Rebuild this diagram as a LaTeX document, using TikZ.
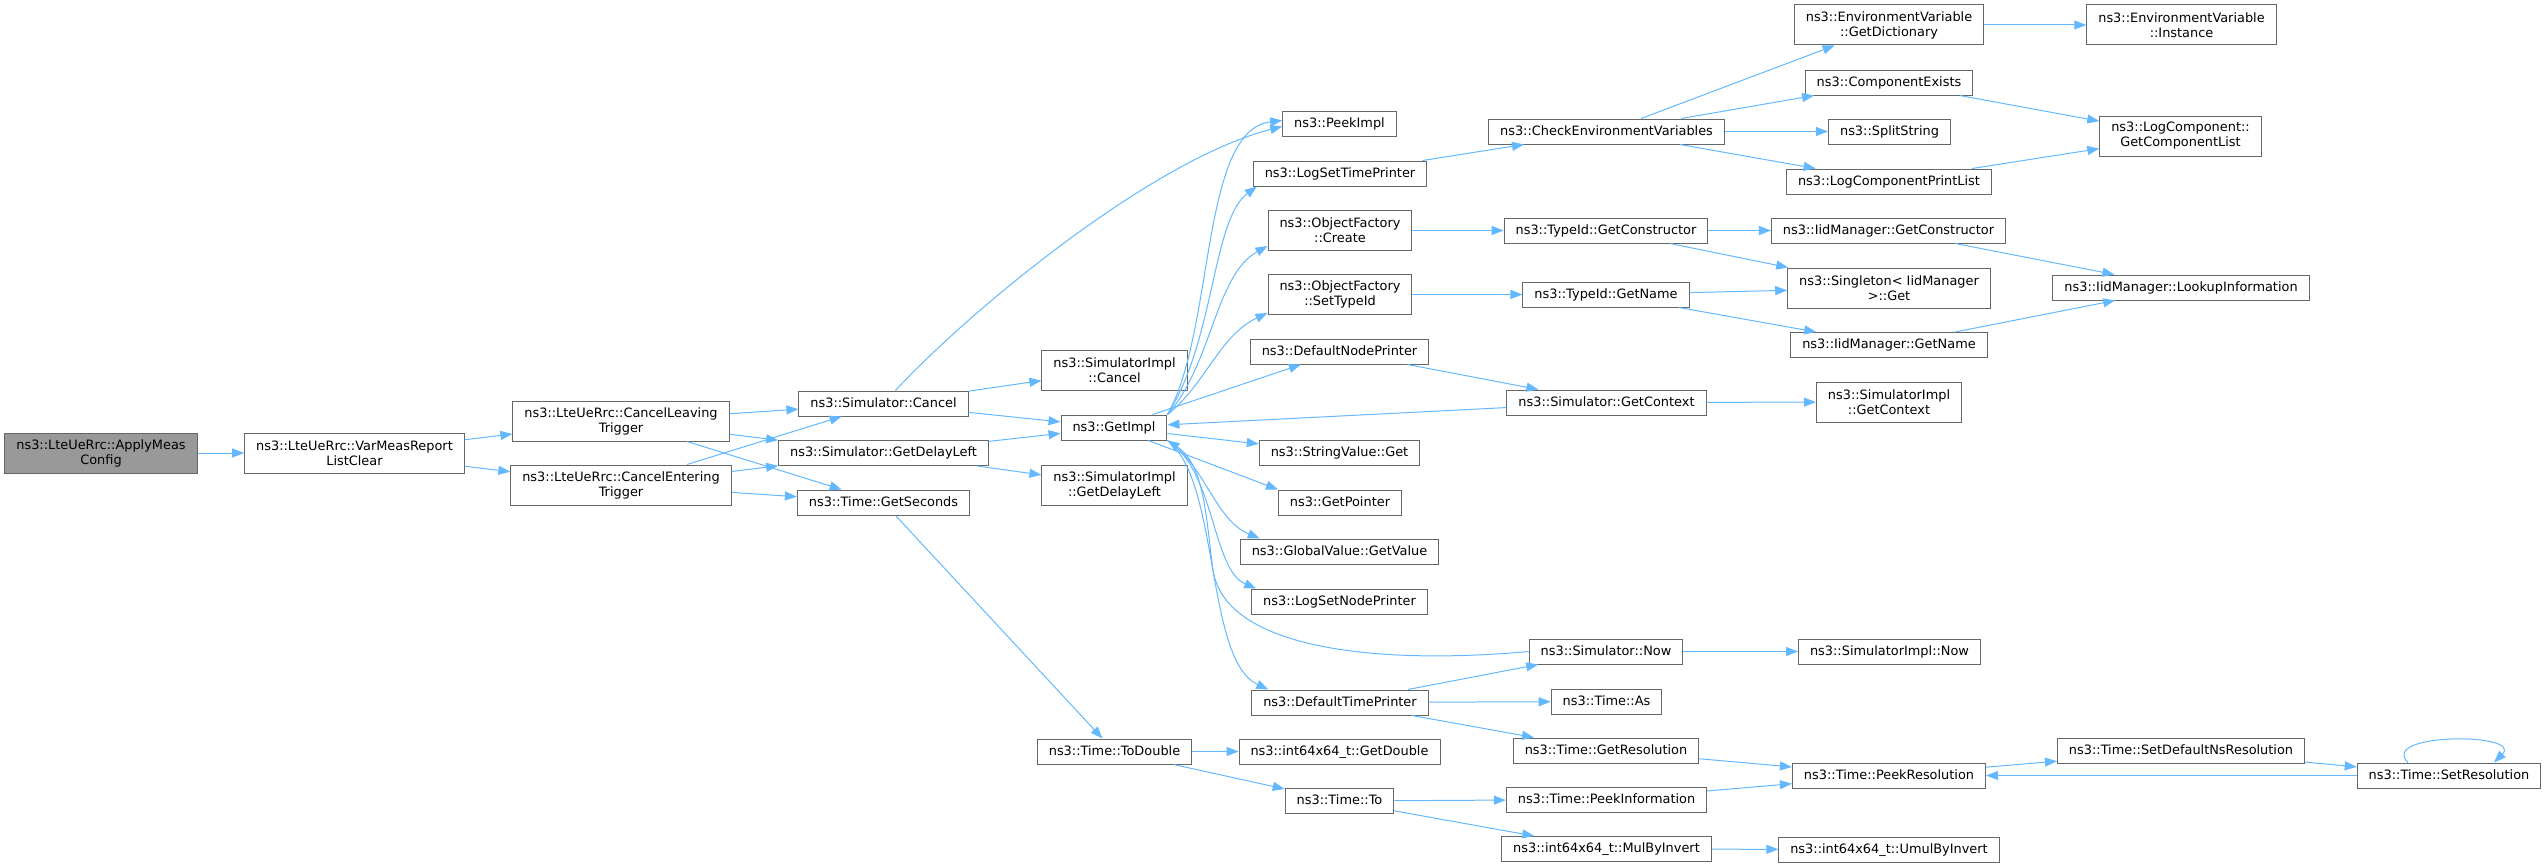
\documentclass[tikz,border=0pt]{standalone}
\usepackage{fontspec}
\setmainfont{DejaVu Sans}
\usepackage{tikz}
\usetikzlibrary{arrows.meta}
\definecolor{edgeblue}{HTML}{63B8FF}
\definecolor{boxgray}{HTML}{666666}
\definecolor{rootgray}{HTML}{999999}

\begin{document}
\begin{tikzpicture}[
            x=1pt, y=-1pt,
            base/.style={draw=boxgray, fill=white, line width=1pt, inner xsep=11.5pt, inner ysep=0pt},
            n/.style={base, minimum height=25pt, text height=9.6pt, text depth=2.6pt},
            nn/.style={base, minimum height=40pt, align=center},
            root/.style={nn, fill=rootgray},
            e/.style={-{Triangle[length=12pt,width=9pt]}, draw=edgeblue, line width=1pt},
            font={\fontsize{12.9pt}{15pt}\selectfont}
        ]
        \useasboundingbox (0,0) rectangle (2547,867);
        \node[root] (ApplyMeasConfig) at (101,453) {ns3::LteUeRrc::ApplyMeas\\Config}; % the caller
        \node[nn] (VarMeasReportListClear) at (354.5,453) {ns3::LteUeRrc::VarMeasReport\\ListClear};
        \node[nn] (CancelLeavingTrigger) at (621,421) {ns3::LteUeRrc::CancelLeaving\\Trigger};
        \node[nn] (CancelEnteringTrigger) at (621,485) {ns3::LteUeRrc::CancelEntering\\Trigger};
        \node[n] (SimCancel) at (883.5,403.5) {ns3::Simulator::Cancel};
        \node[n] (SimGetDelayLeft) at (883.5,453) {ns3::Simulator::GetDelayLeft};
        \node[n] (GetSeconds) at (883.5,502.5) {ns3::Time::GetSeconds};
        \node[nn] (ImplCancel) at (1114.5,370) {ns3::SimulatorImpl\\::Cancel};
        \node[n] (GetImpl) at (1114,427.5) {ns3::GetImpl};
        \node[nn] (ImplGetDelayLeft) at (1114.5,485) {ns3::SimulatorImpl\\::GetDelayLeft};
        \node[n] (ToDouble) at (1114.5,751.5) {ns3::Time::ToDouble};
        \node[n] (PeekImpl) at (1339.5,123.5) {ns3::PeekImpl};
        \node[n] (LogSetTimePrinter) at (1340,173.5) {ns3::LogSetTimePrinter};
        \node[nn] (OFCreate) at (1340,230.5) {ns3::ObjectFactory\\::Create};
        \node[nn] (OFSetTypeId) at (1340,294.5) {ns3::ObjectFactory\\::SetTypeId};
        \node[n] (DefaultNodePrinter) at (1339.5,351.5) {ns3::DefaultNodePrinter};
        \node[n] (StringValueGet) at (1339.5,453) {ns3::StringValue::Get};
        \node[n] (GetPointer) at (1340,502.5) {ns3::GetPointer};
        \node[n] (GlobalValueGetValue) at (1339.5,551.5) {ns3::GlobalValue::GetValue};
        \node[n] (LogSetNodePrinter) at (1339.5,601.5) {ns3::LogSetNodePrinter};
        \node[n] (DefaultTimePrinter) at (1340,702.5) {ns3::DefaultTimePrinter};
        \node[n] (GetDouble) at (1339.5,751.5) {ns3::int64x64\_t::GetDouble};
        \node[n] (TimeTo) at (1339.5,801) {ns3::Time::To};
        \node[n] (CheckEnvVars) at (1606.5,131.5) {ns3::CheckEnvironmentVariables};
        \node[n] (TidGetConstructor) at (1606,230.5) {ns3::TypeId::GetConstructor};
        \node[n] (TidGetName) at (1606,294.5) {ns3::TypeId::GetName};
        \node[n] (SimGetContext) at (1606.5,402.5) {ns3::Simulator::GetContext};
        \node[n] (SimNow) at (1606,651.5) {ns3::Simulator::Now};
        \node[n] (TimeAs) at (1606.5,701.5) {ns3::Time::As};
        \node[n] (GetResolution) at (1606,750.5) {ns3::Time::GetResolution};
        \node[n] (PeekInformation) at (1606.5,799.5) {ns3::Time::PeekInformation};
        \node[n] (MulByInvert) at (1606.5,849) {ns3::int64x64\_t::MulByInvert};
        \node[nn] (GetDictionary) at (1889,25) {ns3::EnvironmentVariable\\::GetDictionary};
        \node[n] (ComponentExists) at (1889,82.5) {ns3::ComponentExists};
        \node[n] (SplitString) at (1889.5,131.5) {ns3::SplitString};
        \node[n] (LogComponentPrintList) at (1889,181.5) {ns3::LogComponentPrintList};
        \node[n] (IidGetConstructor) at (1888.5,230.5) {ns3::IidManager::GetConstructor};
        \node[nn] (SingletonGet) at (1889,288) {ns3::Singleton< IidManager\\ >::Get};
        \node[n] (IidGetName) at (1889,345) {ns3::IidManager::GetName};
        \node[nn] (ImplGetContext) at (1889,402) {ns3::SimulatorImpl\\::GetContext};
        \node[n] (ImplNow) at (1889.5,651.5) {ns3::SimulatorImpl::Now};
        \node[n] (PeekResolution) at (1889,775.5) {ns3::Time::PeekResolution};
        \node[n] (UmulByInvert) at (1889,849.5) {ns3::int64x64\_t::UmulByInvert};
        \node[nn] (EnvInstance) at (2181.5,25) {ns3::EnvironmentVariable\\::Instance};
        \node[nn] (GetComponentList) at (2180.5,136) {ns3::LogComponent::\\GetComponentList};
        \node[n] (LookupInformation) at (2181,287.5) {ns3::IidManager::LookupInformation};
        \node[n] (SetDefaultNsResolution) at (2181,750.5) {ns3::Time::SetDefaultNsResolution};
        \node[n] (SetResolution) at (2449,775.5) {ns3::Time::SetResolution};

        % calls
        \draw[e] (ApplyMeasConfig) -- (VarMeasReportListClear);
        \draw[e] (VarMeasReportListClear) -- (CancelLeavingTrigger);
        \draw[e] (VarMeasReportListClear) -- (CancelEnteringTrigger);
        \draw[e] (CancelLeavingTrigger) -- (SimCancel);
        \draw[e] (CancelLeavingTrigger) -- (SimGetDelayLeft);
        \draw[e] (CancelLeavingTrigger) -- (GetSeconds);
        \draw[e] (CancelEnteringTrigger) -- (SimCancel);
        \draw[e] (CancelEnteringTrigger) -- (SimGetDelayLeft);
        \draw[e] (CancelEnteringTrigger) -- (GetSeconds);
        \draw[e] (SimCancel) .. controls (965,315) and (1150,160) .. ([yshift=-3pt]PeekImpl.west);
        \draw[e] (SimCancel) -- (ImplCancel);
        \draw[e] (SimCancel) -- (GetImpl);
        \draw[e] (SimGetDelayLeft) -- (GetImpl);
        \draw[e] (SimGetDelayLeft) -- (ImplGetDelayLeft);
        \draw[e] (GetSeconds) -- (ToDouble);
        % GetImpl fans out up and down
        \draw[e] (GetImpl.north east) .. controls (1215,330) and (1200,130) .. ([yshift=3pt]PeekImpl.west);
        \draw[e] (GetImpl.north east) .. controls (1215,340) and (1212,220) .. ([xshift=4pt]LogSetTimePrinter.south west);
        \draw[e] (GetImpl.north east) .. controls (1212,365) and (1215,275) .. ([yshift=5pt]OFCreate.south west);
        \draw[e] (GetImpl.north east) .. controls (1205,385) and (1220,335) .. ([yshift=2pt]OFSetTypeId.south west);
        \draw[e] (GetImpl) -- (DefaultNodePrinter);
        \draw[e] (SimGetContext) -- (GetImpl);
        \draw[e] (GetImpl) -- (StringValueGet);
        \draw[e] (GetImpl) -- (GetPointer.north west);
        \draw[e] (GetImpl.south east) .. controls (1205,465) and (1215,520) .. ([xshift=20pt]GlobalValueGetValue.north west);
        \draw[e] (GetImpl.south east) .. controls (1215,470) and (1212,570) .. ([xshift=5pt]LogSetNodePrinter.north west);
        \draw[e] (GetImpl.south east) .. controls (1220,480) and (1205,660) .. ([xshift=17pt]DefaultTimePrinter.north west);
        \draw[e] (SimNow.west) .. controls (1380,665) and (1225,650) .. (1213,570)
                 .. controls (1206,520) and (1205,465) .. (GetImpl.south east);
        \draw[e] (LogSetTimePrinter) -- (CheckEnvVars);
        \draw[e] (CheckEnvVars) -- (GetDictionary);
        \draw[e] (CheckEnvVars) -- (ComponentExists);
        \draw[e] (CheckEnvVars) -- (SplitString);
        \draw[e] (CheckEnvVars) -- (LogComponentPrintList);
        \draw[e] (GetDictionary) -- (EnvInstance);
        \draw[e] (ComponentExists) -- (GetComponentList);
        \draw[e] (LogComponentPrintList) -- (GetComponentList);
        \draw[e] (OFCreate) -- (TidGetConstructor);
        \draw[e] (TidGetConstructor) -- (IidGetConstructor);
        \draw[e] (TidGetConstructor) -- (SingletonGet);
        \draw[e] (OFSetTypeId) -- (TidGetName);
        \draw[e] (TidGetName) -- (SingletonGet);
        \draw[e] (TidGetName) -- (IidGetName);
        \draw[e] (IidGetConstructor) -- (LookupInformation);
        \draw[e] (IidGetName) -- (LookupInformation);
        \draw[e] (DefaultNodePrinter) -- (SimGetContext);
        \draw[e] (SimGetContext) -- (ImplGetContext);
        \draw[e] (SimNow) -- (ImplNow);
        \draw[e] (DefaultTimePrinter) -- (SimNow);
        \draw[e] (DefaultTimePrinter) -- (TimeAs);
        \draw[e] (DefaultTimePrinter) -- (GetResolution);
        \draw[e] (GetResolution) -- (PeekResolution);
        \draw[e] (ToDouble) -- (GetDouble);
        \draw[e] (ToDouble) -- (TimeTo);
        \draw[e] (TimeTo) -- (PeekInformation);
        \draw[e] (TimeTo) -- (MulByInvert);
        \draw[e] (PeekInformation) -- (PeekResolution);
        \draw[e] (MulByInvert) -- (UmulByInvert);
        \draw[e] (PeekResolution) -- (SetDefaultNsResolution);
        \draw[e] (SetDefaultNsResolution) -- (SetResolution);
        \draw[e] (SetResolution) -- (PeekResolution);
        % self call
        \draw[e] ([xshift=-41pt]SetResolution.north) .. controls +(-30,-30) and +(30,-30) .. ([xshift=45pt]SetResolution.north);
    \end{tikzpicture}
\end{document}
